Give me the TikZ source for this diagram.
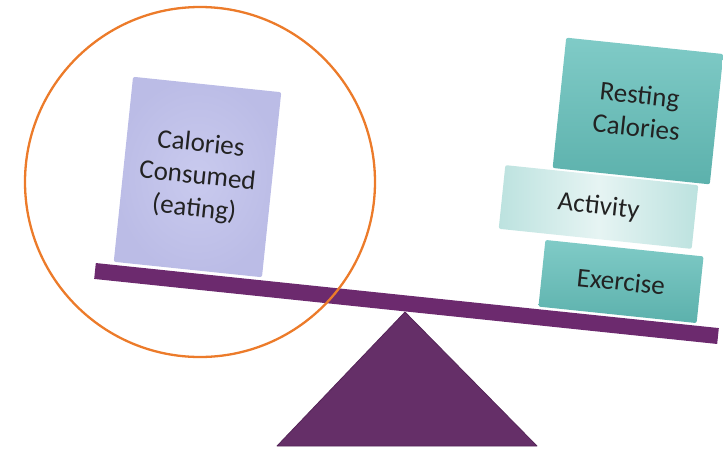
\documentclass[tikz,border=0pt]{standalone}
\usepackage{fontspec}
\setmainfont{Carlito}
\definecolor{beamc}{HTML}{6C2A6E}
\definecolor{basec}{HTML}{652F68}
\definecolor{baseedge}{HTML}{552558}
\definecolor{lav}{HTML}{BBBCE6}
\definecolor{lavlight}{HTML}{C9CAEE}
\definecolor{tealdark}{HTML}{5CB1AC}
\definecolor{teallight}{HTML}{80CBC7}
\definecolor{actside}{HTML}{BCE2DF}
\definecolor{actmid}{HTML}{E6F4F3}
\definecolor{ring}{HTML}{EC7B2A}
\definecolor{txt}{HTML}{222222}
\tikzset{
  box/.style={rotate=-5.96, inner sep=0pt, rounded corners=2pt, text=txt, align=center,
    font=\fontsize{27}{32.5}\selectfont},
  tealbox/.style={box, top color=teallight, bottom color=tealdark},
  lavbox/.style={box, inner color=lavlight, outer color=lav},
  actbox/.style={box, left color=actside, right color=actside, middle color=actmid},
  beamstyle/.style={rotate=-5.96, inner sep=0pt, fill=beamc, minimum width=626.4pt, minimum height=16pt},
  ringstyle/.style={circle, draw=ring, line width=2.3pt, minimum size=350pt, inner sep=0pt}
}
\begin{document}
\begin{tikzpicture}[x=1pt,y=-1pt]
\useasboundingbox (0,0) rectangle (723,448);
% right stack
\node[tealbox, minimum width=158pt, minimum height=131pt] (rest) at (638,111) {Resting\\Calories};
\node[actbox, minimum width=194pt, minimum height=64pt] (act) at (598.5,207) {Activity};
\node[tealbox, minimum width=159pt, minimum height=67pt] (ex) at (621,281.5) {Exercise};
% left box
\node[lavbox, minimum width=149pt, minimum height=186pt] (eat) at (197.5,177) {Calories\\Consumed\\(eating)};
% beam
\node[beamstyle] (beam) at (406.5,303.5) {};
% fulcrum
\coordinate (apex) at (405,312);
\coordinate (bl) at (277,446);
\coordinate (br) at (537,446);
\filldraw[fill=basec, draw=baseedge, line width=0.8pt, line join=round] (apex) -- (br) -- (bl) -- cycle;
% highlight ring
\node[ringstyle] (ringc) at (200,182) {};
\end{tikzpicture}
\end{document}
